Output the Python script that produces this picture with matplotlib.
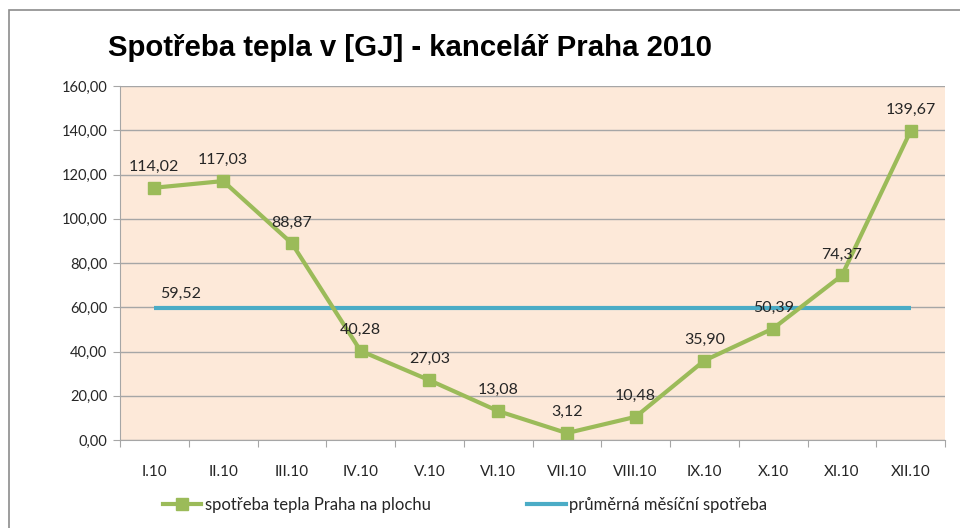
import matplotlib
matplotlib.use("Agg")
import matplotlib.pyplot as plt
from matplotlib.patches import Rectangle
from matplotlib.lines import Line2D

months = ["I.10", "II.10", "III.10", "IV.10", "V.10", "VI.10", "VII.10",
          "VIII.10", "IX.10", "X.10", "XI.10", "XII.10"]
consumption = [114.02, 117.03, 88.87, 40.28, 27.03, 13.08, 3.12,
               10.48, 35.90, 50.39, 74.37, 139.67]
average = 59.52
yticks = [0, 20, 40, 60, 80, 100, 120, 140, 160]
title = "Spotřeba tepla v [GJ] - kancelář Praha 2010"
series_name = "spotřeba tepla Praha na plochu"
avg_name = "průměrná měsíční spotřeba"

def fmt(v):
    return f"{v:.2f}".replace(".", ",")

GREEN = "#9BBB59"
BLUE = "#4BACC6"
GRID = "#A6A6A6"
TXT = "#262626"

plt.rcParams['font.family'] = ['Lato', 'DejaVu Sans']

fig = plt.figure(figsize=(9.6, 5.28), dpi=100)
W, H = 960, 528
# outer chart frame
fig.patches.append(Rectangle((9 / W, -0.1), 1.2, (H - 10) / H + 0.1,
                             transform=fig.transFigure, fill=False,
                             edgecolor="#8C8C8C", linewidth=1.2))

ax = fig.add_axes([120 / W, 1 - 440 / H, (945 - 120) / W, (440 - 86) / H])
ax.set_facecolor("#FDE9D9")
x = list(range(len(months)))
ax.set_xlim(-0.5, len(months) - 0.5)
ax.set_ylim(0, 160)
ax.set_yticks(yticks)
ax.set_yticklabels([fmt(v) for v in yticks], fontsize=10.5, color=TXT)
ax.yaxis.grid(True, color=GRID, linewidth=1)
ax.set_axisbelow(True)
ax.set_xticks([i - 0.5 for i in range(len(months) + 1)])
ax.set_xticklabels([])
ax.set_xticks(x, minor=True)
ax.set_xticklabels(months, minor=True, fontsize=11, color=TXT)
ax.tick_params(axis="x", which="major", length=5, color=GRID, direction="out")
ax.tick_params(axis="x", which="minor", length=0, pad=18)
ax.tick_params(axis="y", length=5, color=GRID, pad=4)
for s in ["top", "right"]:
    ax.spines[s].set_visible(False)
ax.spines["left"].set_color(GRID)
ax.spines["bottom"].set_color(GRID)

ax.plot([0, len(months) - 1], [average, average], color=BLUE, linewidth=3,
        solid_capstyle="butt")
ax.plot(x, consumption, color=GREEN, linewidth=3, marker="s", markersize=8,
        markerfacecolor=GREEN, markeredgecolor=GREEN)

for xi, v in zip(x, consumption):
    ax.annotate(fmt(v), (xi, v), xytext=(0, 10), textcoords="offset points",
                ha="center", va="bottom", fontsize=11.5, color=TXT)
ax.annotate(fmt(average), (0, average), xytext=(4, 5), textcoords="offset points",
            ha="left", va="bottom", fontsize=11.5, color=TXT)

fig.text(108 / W, 1 - 48 / H, title, fontsize=21.2, fontweight="bold",
         family="Liberation Sans", ha="left", va="center", color="black")

handles = [Line2D([0], [0], color=GREEN, linewidth=3, marker="s", markersize=8),
           Line2D([0], [0], color=BLUE, linewidth=3)]
fig.legend(handles, [series_name, avg_name], loc="center",
           bbox_to_anchor=(465 / W, 1 - 505 / H), ncol=2, frameon=False,
           fontsize=12, columnspacing=5.8, handlelength=2.3, handletextpad=0.2,
           labelcolor=TXT, borderpad=0, borderaxespad=0)

fig.savefig("out.png", dpi=100)
